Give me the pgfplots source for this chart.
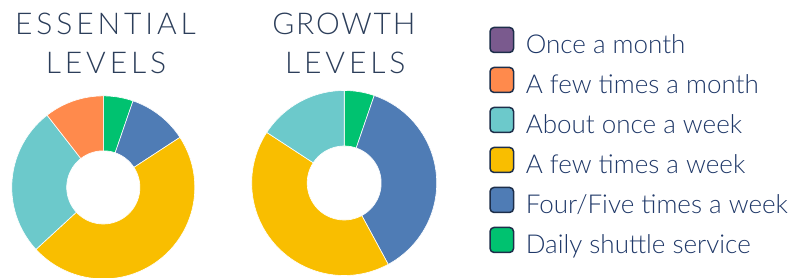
\documentclass[border=0pt]{standalone}
\usepackage{pgfplots}
\usepackage{pgfplotstable}
\pgfplotsset{compat=1.18}
\usepackage{fontspec}
\setmainfont{Lato}
\newfontfamily\titlefont[LetterSpace=13]{Lato Light}
\newfontfamily\legendfont{Lato Light}

\definecolor{cPurple}{HTML}{7A5A8E}
\definecolor{cOrange}{HTML}{FF8A4C}
\definecolor{cTeal}{HTML}{6CC9CB}
\definecolor{cYellow}{HTML}{F9BE00}
\definecolor{cBlue}{HTML}{4F7CB5}
\definecolor{cGreen}{HTML}{00C270}
\definecolor{cBorder}{HTML}{1D2E4A}
\definecolor{cTitle}{HTML}{2C3E5A}
\definecolor{cText}{HTML}{1F3868}

% counts per answer, slices run clockwise from 12 o'clock
\pgfplotstableread{
key count col
Daily 1 cGreen
FourFive 2 cBlue
FewWeek 9 cYellow
OnceWeek 5 cTeal
FewMonth 2 cOrange
OnceMonth 0 cPurple
}\essential
\pgfplotstableread{
key count col
Daily 1 cGreen
FourFive 7 cBlue
FewWeek 8 cYellow
OnceWeek 3 cTeal
FewMonth 0 cOrange
OnceMonth 0 cPurple
}\growth

\def\rin{0.4}
\newcommand\donut[1]{%
  \pgfplotstablegetrowsof{#1}%
  \pgfmathtruncatemacro\lastrow{\pgfplotsretval-1}%
  \def\slicetot{0}%
  \pgfplotsforeachungrouped \rowi in {0,...,\lastrow}{%
    \pgfplotstablegetelem{\rowi}{count}\of{#1}%
    \pgfmathsetmacro\slicetot{\slicetot+\pgfplotsretval}%
  }%
  \def\slicecum{0}%
  \pgfplotsforeachungrouped \rowi in {0,...,\lastrow}{%
    \pgfplotstablegetelem{\rowi}{count}\of{#1}\let\slicecnt\pgfplotsretval
    \pgfplotstablegetelem{\rowi}{col}\of{#1}\let\slicecol\pgfplotsretval
    \pgfmathsetmacro\angA{360*\slicecum/\slicetot}%
    \pgfmathsetmacro\slicecum{\slicecum+\slicecnt}%
    \pgfmathsetmacro\angB{360*\slicecum/\slicetot}%
    \pgfmathsetmacro\angD{\angB-\angA}%
    \ifdim\slicecnt pt>0pt
      \edef\temp{%
        \noexpand\addplot[fill=\slicecol, draw=white, line width=0.6pt,
          domain=0:2.1, samples=211]
        ({(1-(1-\rin)*min(max((x-1)/0.05,0),1)+(1-\rin)*min(max((x-2.05)/0.05,0),1))*sin(\angA+\angD*min(x,1)-\angD*min(max(x-1.05,0),1))},
         {(1-(1-\rin)*min(max((x-1)/0.05,0),1)+(1-\rin)*min(max((x-2.05)/0.05,0),1))*cos(\angA+\angD*min(x,1)-\angD*min(max(x-1.05,0),1))});
      }\temp
    \fi
  }%
}

\pgfplotsset{
  donutaxis/.style={hide axis, scale only axis, anchor=center, clip=false,
    xmin=-1, xmax=1, ymin=-1, ymax=1},
  donutlegend/.style={legend image code/.code={%
    \draw[##1, draw=cBorder, line width=1.5pt, rounded corners=4pt]
      (0.75pt,-6.4pt) rectangle (24.25pt,18.6pt);}},
}

\begin{document}
\begin{tikzpicture}
\useasboundingbox (0,0) rectangle (812pt,277pt);
\begin{axis}[donutaxis, width=183pt, height=183pt, at={(103.3pt,89.6pt)}]
\donut{\essential}
\end{axis}
\begin{axis}[donutaxis, width=185pt, height=185pt, at={(344.2pt,94pt)}]
\donut{\growth}
\end{axis}
\begin{axis}[hide axis, scale only axis, width=10pt, height=10pt,
  at={(489.3pt,250.3pt)}, anchor=north west, xmin=0, xmax=1, ymin=0, ymax=1,
  legend cell align=left,
  legend style={at={(0,1)}, anchor=north west, draw=none, fill=none,
    inner sep=0pt, outer sep=0pt, row sep=7.65pt, column sep=11.5pt,
    font=\legendfont\fontsize{26}{30}\selectfont,
    text=cText,
    nodes={inner sep=0pt, text height=20pt, text depth=6pt}}]
\addlegendimage{donutlegend, fill=cPurple}
\addlegendentry{Once a month}
\addlegendimage{donutlegend, fill=cOrange}
\addlegendentry{A few times a month}
\addlegendimage{donutlegend, fill=cTeal}
\addlegendentry{About once a week}
\addlegendimage{donutlegend, fill=cYellow}
\addlegendentry{A few times a week}
\addlegendimage{donutlegend, fill=cBlue}
\addlegendentry{Four/Five times a week}
\addlegendimage{donutlegend, fill=cGreen}
\addlegendentry{Daily shuttle service}
\end{axis}
\begin{scope}[every node/.style={inner sep=0pt, anchor=base, text=cTitle,
    font=\titlefont\fontsize{30}{36}\selectfont}]
\node at (105.5pt,243pt) {ESSENTIAL};
\node at (106pt,204pt) {LEVELS};
\node at (343.9pt,243pt) {\addfontfeatures{LetterSpace=6}GROWTH};
\node at (345.3pt,204pt) {LEVELS};
\end{scope}
\end{tikzpicture}
\end{document}
